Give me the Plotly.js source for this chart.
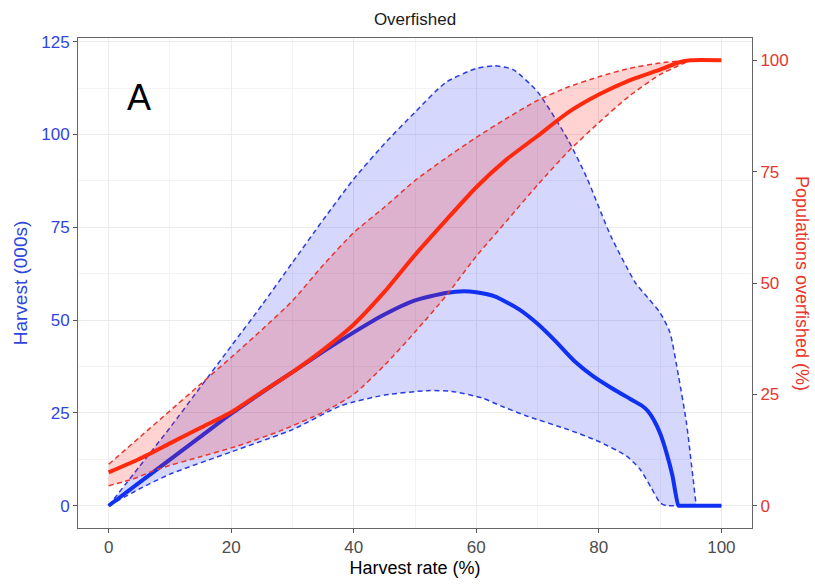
<!DOCTYPE html>
<html>
<head>
<meta charset="utf-8">
<script src="https://cdn.plot.ly/plotly-3.0.1.min.js"></script>
<style>html,body{margin:0;padding:0;background:#fff;}#chart{width:815px;height:584px;}</style>
</head>
<body>
<div id="chart"></div>
<script>
// Harvest (000s), left axis
const blueMeanX = [0, 5, 10, 15, 20, 25, 30, 35, 40, 45, 50, 55, 58, 60, 63, 67, 70, 73, 76, 79, 82, 85, 87, 88, 89, 90, 91, 92, 93, 93.3, 100];
const blueMean  = [0, 6.2, 12.4, 18.6, 24.8, 30.5, 36, 41.5, 46.7, 51.5, 55.3, 57.3, 57.8, 57.5, 56.4, 52.9, 49, 44.2, 39, 35, 31.8, 28.9, 27, 25.5, 23, 19.5, 14.5, 8.2, 0, 0, 0];

const blueUpX = [0, 5, 10, 15, 20, 25, 30, 35, 40, 45, 50, 55, 60, 63, 66, 70, 75, 78, 82, 86, 88, 90, 91.6, 93, 94.3, 95.4, 96, 96.3, 100];
const blueUp  = [0, 10.5, 21, 32, 43, 54, 65.5, 77, 88, 97.5, 106, 114, 117.8, 118.5, 117.5, 111.5, 98.5, 88.5, 72.5, 60, 56, 52, 46.7, 35, 22.4, 7.2, 0, 0, 0];

const blueLoX = [0, 5, 10, 20, 30, 38, 45, 52, 56, 61, 64, 68, 75, 80, 84.5, 86.7, 88.5, 90, 91, 91.3, 100];
const blueLo  = [0, 4.5, 8.5, 14.5, 20.5, 27, 29.8, 31, 30.8, 29, 26.9, 24.3, 20.5, 17.3, 13.4, 9.9, 5, 0.8, 0, 0, 0];

// Populations overfished (%), right axis
const redMeanX = [0, 5, 10, 15, 20, 25, 30, 35, 40, 45, 50, 55, 60, 65, 70, 75, 80, 85, 90, 93, 95, 100];
const redMean  = [7.5, 10.5, 14, 17.5, 21, 25.5, 30, 35, 40.7, 48, 56.3, 64, 71.5, 77.8, 83, 88.3, 92.3, 95.5, 97.9, 99.5, 100, 100];

const redUpX = [0, 5, 10, 15, 20, 25, 30, 35, 40, 45, 50, 55, 60, 65, 70, 75, 80, 85, 90, 95];
const redUp  = [9.3, 15.3, 21.3, 27.3, 33.3, 39.5, 46, 54, 61.3, 67, 73, 78, 82.7, 87, 91, 94, 96.3, 98.2, 99.4, 100];

const redLoX = [0, 4, 8, 15, 21, 28, 35, 40, 45, 50, 55, 60, 65, 70, 75, 80, 85, 90, 95];
const redLo  = [4.5, 6, 8.2, 11, 13.4, 16.8, 21, 25, 31.5, 39, 47, 56, 64, 72, 79.5, 86, 92, 96.8, 100];

const xTicks = [0, 20, 40, 60, 80, 100];
const yTicks = [0, 25, 50, 75, 100, 125];
const y2Ticks = [0, 25, 50, 75, 100];

const BLUE = '#1030f2', BLUE_D = '#2a3ce0', BLUE_FILL = 'rgba(25,35,245,0.18)';
const RED = '#ff2a0e', RED_D = '#e8362c', RED_FILL = 'rgba(255,20,10,0.19)';
const SHAPE = {shape: 'spline', smoothing: 0.6};

const traces = [
  {x: blueLoX, y: blueLo, mode: 'lines', line: Object.assign({color: BLUE_D, width: 1.5, dash: '5px,3.5px'}, SHAPE), hoverinfo: 'skip'},
  {x: blueUpX, y: blueUp, mode: 'lines', fill: 'tonexty', fillcolor: BLUE_FILL, line: Object.assign({color: BLUE_D, width: 1.5, dash: '5px,3.5px'}, SHAPE), hoverinfo: 'skip'},
  {x: blueMeanX, y: blueMean, mode: 'lines', line: Object.assign({color: BLUE, width: 4}, SHAPE)},
  {x: redLoX, y: redLo, yaxis: 'y2', mode: 'lines', line: Object.assign({color: RED_D, width: 1.5, dash: '5px,3.5px'}, SHAPE), hoverinfo: 'skip'},
  {x: redUpX, y: redUp, yaxis: 'y2', mode: 'lines', fill: 'tonexty', fillcolor: RED_FILL, line: Object.assign({color: RED_D, width: 1.5, dash: '5px,3.5px'}, SHAPE), hoverinfo: 'skip'},
  {x: redMeanX, y: redMean, yaxis: 'y2', mode: 'lines', line: Object.assign({color: RED, width: 4}, SHAPE)}
];

const FONT = 'Liberation Sans, Arial, sans-serif';
const layout = {
  width: 815, height: 584,
  margin: {l: 78, r: 63, t: 38, b: 56},
  paper_bgcolor: '#fff', plot_bgcolor: '#fff',
  showlegend: false,
  font: {family: FONT},
  title: {text: 'Overfished', font: {size: 17, color: '#1a1a1a', family: FONT}, xref: 'paper', x: 0.5, xanchor: 'center', yref: 'container', y: 0.968, yanchor: 'middle'},
  xaxis: {
    range: [-5, 105], tickvals: xTicks, ticktext: xTicks.map(String),
    showgrid: true, gridcolor: '#ebebeb', gridwidth: 1,
    minor: {dtick: 10, tick0: 0, showgrid: true, gridcolor: '#f3f3f3', gridwidth: 1, ticks: ''},
    zeroline: false, showline: true, mirror: true, linecolor: '#666', linewidth: 1,
    ticks: 'outside', ticklen: 4, tickcolor: '#555',
    tickfont: {size: 17, color: '#4d4d4d'},
    title: {text: 'Harvest rate (%)', font: {size: 18, color: '#000'}, standoff: 4}
  },
  yaxis: {
    range: [-6, 126], tickvals: yTicks, ticktext: yTicks.map(String),
    showgrid: true, gridcolor: '#ebebeb', gridwidth: 1,
    minor: {dtick: 12.5, tick0: 0, showgrid: true, gridcolor: '#f3f3f3', gridwidth: 1, ticks: ''},
    zeroline: false, showline: true, mirror: true, linecolor: '#666', linewidth: 1,
    ticks: 'outside', ticklen: 4, tickcolor: '#555',
    tickfont: {size: 17, color: '#2f45e0'},
    title: {text: 'Harvest (000s)', font: {size: 19, color: '#2f45e0'}, standoff: 8}
  },
  yaxis2: {
    overlaying: 'y', side: 'right', anchor: 'x',
    range: [-5, 105], tickvals: y2Ticks, ticktext: y2Ticks.map(String),
    showgrid: false, zeroline: false, showline: false,
    ticks: 'outside', ticklen: 4, tickcolor: '#555',
    tickfont: {size: 17, color: '#e8362c'}
  },
  annotations: [
    {text: 'A', xref: 'x', yref: 'y', x: 5, y: 110, showarrow: false, font: {size: 36, color: '#000'}, xanchor: 'center', yanchor: 'middle'},
    {text: 'Populations overfished (%)', xref: 'paper', yref: 'paper', x: 1, xshift: 50, y: 0.5, xanchor: 'center', yanchor: 'middle', textangle: 90, showarrow: false, font: {size: 18, color: '#e8362c'}}
  ]
};

Plotly.newPlot('chart', traces, layout, {staticPlot: true, displayModeBar: false});
</script>
</body>
</html>
